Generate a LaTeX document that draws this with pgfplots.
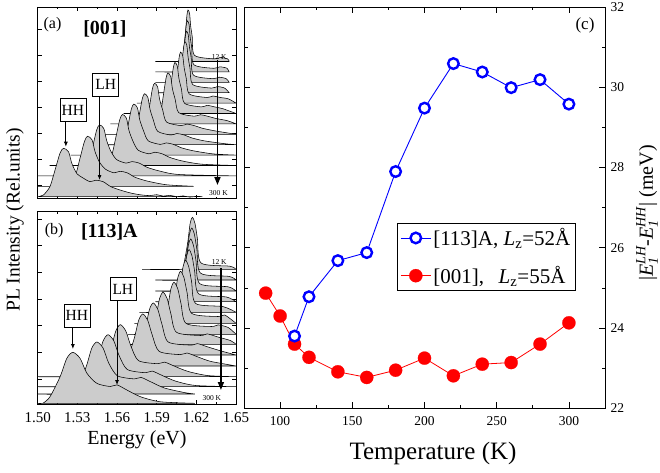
\documentclass[border=0pt]{standalone}
\usepackage{amsmath}
\usepackage{fontspec}
\setmainfont{Liberation Serif}
\usepackage{pgfplots}
\pgfplotsset{compat=1.18}
\usetikzlibrary{arrows.meta}
\newcommand{\fs}[1]{\fontsize{#1}{#1}\selectfont}
\pgfplotsset{
  spec/.style={draw=black, fill=gray!40, line width=0.55pt, smooth, tension=0.45},
  lpanel/.style={scale only axis, anchor=south west, width=198.3pt, xmin=1.5, xmax=1.65,
     xtick={1.50,1.53,1.56,1.59,1.62,1.65}, minor x tick num=1,
     tick align=inside, major tick length=4pt, minor tick length=2.5pt,
     axis line style={line width=0.9pt}, every tick/.append style={black, line width=0.7pt},
     yticklabels={}},
}
\tikzset{
  boxlab/.style={draw, line width=0.6pt, fill=white, font=\fs{15.5}, inner sep=1pt, minimum width=26pt, minimum height=22.5pt},
  thinarrow/.style={line width=0.8pt, -{Latex[length=5pt,width=4pt]}},
  bigarrow/.style={line width=1.6pt, -{Triangle[length=8pt,width=6pt]}},
}
\begin{document}
\begin{tikzpicture}
\useasboundingbox (0pt,0pt) rectangle (660pt,472pt);
%%%%%%%%%%%%%%%% panel (a)
\begin{axis}[lpanel, at={(37.7pt,273.5pt)}, height=191.5pt, ymin=0, ymax=191.5,
  xticklabels={}, ytick={13.5,39.5,65.5,91.5,117.5,143.5,169.5}]
\addplot[spec] coordinates {(1.589,137.0) (1.6075,137.0) (1.6088,138.8) (1.6104,147.8) (1.6117,165.3) (1.6129,183.4) (1.6137,188.5) (1.6149,184.9) (1.6157,172.5) (1.6169,161.7) (1.6186,143.2) (1.6337,139.6) (1.6382,141.1) (1.6437,139.6) (1.6448,137.0)} -- cycle;
\addplot[spec] coordinates {(1.589,126.6) (1.6068,126.6) (1.6082,128.4) (1.6098,137.3) (1.6111,154.7) (1.6123,172.5) (1.6132,177.6) (1.6145,174.0) (1.6153,161.8) (1.6165,151.1) (1.6182,133.7) (1.6332,130.2) (1.6377,131.7) (1.6432,130.2) (1.6448,126.6)} -- cycle;
\addplot[spec] coordinates {(1.589,116.2) (1.6058,116.2) (1.6073,118.0) (1.6090,126.9) (1.6104,144.3) (1.6117,162.1) (1.6126,167.2) (1.6139,163.6) (1.6148,151.4) (1.6161,140.7) (1.6179,123.3) (1.6326,119.8) (1.6371,121.3) (1.6426,119.8) (1.6448,116.2)} -- cycle;
\addplot[spec] coordinates {(1.589,105.8) (1.6040,105.8) (1.6056,107.6) (1.6075,116.5) (1.6090,133.9) (1.6104,151.7) (1.6114,156.8) (1.6128,153.2) (1.6138,141.0) (1.6152,130.3) (1.6172,114.0) (1.6314,110.4) (1.6359,111.9) (1.6414,110.4) (1.6448,105.8)} -- cycle;
\addplot[spec] coordinates {(1.575,95.4) (1.5997,95.4) (1.6016,97.2) (1.6037,106.1) (1.6054,123.5) (1.6070,141.3) (1.6081,146.4) (1.6097,142.8) (1.6108,130.6) (1.6124,119.9) (1.6146,104.6) (1.6281,101.0) (1.6326,102.5) (1.6381,101.0) (1.6441,99.7) (1.65,95.4)} -- cycle;
\addplot[spec] coordinates {(1.565,85.0) (1.5944,85.0) (1.5965,86.8) (1.5989,95.7) (1.6007,113.1) (1.6026,130.9) (1.6038,136.0) (1.6056,132.4) (1.6068,120.2) (1.6087,109.5) (1.6111,95.2) (1.6238,91.6) (1.6283,93.2) (1.6338,91.6) (1.6398,89.9) (1.65,85.0)} -- cycle;
\addplot[spec] coordinates {(1.555,74.6) (1.5880,74.6) (1.5903,76.4) (1.5930,85.3) (1.5950,102.7) (1.5971,120.5) (1.5985,125.6) (1.6006,122.0) (1.6019,109.8) (1.6040,99.1) (1.6067,85.8) (1.6185,82.3) (1.6230,83.8) (1.6285,82.3) (1.6345,80.1) (1.6435,77.8) (1.65,74.6)} -- cycle;
\addplot[spec] coordinates {(1.545,64.2) (1.5767,64.2) (1.5793,66.0) (1.5823,74.9) (1.5846,92.3) (1.5868,110.1) (1.5884,115.2) (1.5907,111.6) (1.5922,99.4) (1.5945,88.7) (1.5975,76.4) (1.6084,72.9) (1.6129,74.4) (1.6184,72.9) (1.6244,70.3) (1.6334,67.8) (1.65,64.2)} -- cycle;
\addplot[spec] coordinates {(1.535,53.8) (1.5679,53.8) (1.5708,55.6) (1.5741,64.5) (1.5766,81.9) (1.5791,99.7) (1.5808,104.8) (1.5833,101.2) (1.5850,89.0) (1.5875,78.3) (1.5908,67.1) (1.6008,63.5) (1.6053,65.0) (1.6108,63.5) (1.6168,60.5) (1.6258,57.7) (1.6408,54.9) (1.65,53.8)} -- cycle;
\addplot[spec] coordinates {(1.525,43.4) (1.5587,43.4) (1.5618,45.2) (1.5654,54.1) (1.5681,71.5) (1.5708,89.3) (1.5727,94.4) (1.5754,90.8) (1.5772,78.6) (1.5800,67.9) (1.5836,57.7) (1.5927,54.1) (1.5972,55.6) (1.6027,54.1) (1.6087,50.7) (1.6177,47.7) (1.6327,44.6) (1.65,43.4)} -- cycle;
\addplot[spec] coordinates {(1.509,33.0) (1.5489,33.0) (1.5522,34.8) (1.5561,43.7) (1.5591,61.1) (1.5621,78.9) (1.5641,84.0) (1.5671,80.4) (1.5690,68.2) (1.5720,57.5) (1.5760,48.3) (1.5841,44.7) (1.5886,46.3) (1.5941,44.7) (1.6001,41.0) (1.6091,37.6) (1.6241,34.3) (1.65,33.0)} -- cycle;
\addplot[spec] coordinates {(1.500,22.6) (1.5302,22.6) (1.5339,24.4) (1.5381,33.3) (1.5414,50.7) (1.5446,68.5) (1.5468,73.6) (1.5500,70.0) (1.5522,57.8) (1.5554,47.1) (1.5597,38.9) (1.5668,35.4) (1.5713,36.9) (1.5768,35.4) (1.5828,31.2) (1.5918,27.6) (1.6068,24.0) (1.65,22.6)} -- cycle;
\addplot[spec] coordinates {(1.500,12.2) (1.5202,12.2) (1.5240,14.0) (1.5285,22.7) (1.5319,39.7) (1.5354,57.2) (1.5377,62.2) (1.5411,58.7) (1.5434,46.7) (1.5468,36.2) (1.5514,29.2) (1.5577,25.7) (1.5622,27.2) (1.5677,25.7) (1.5737,21.2) (1.5827,17.5) (1.5977,13.7) (1.618,12.2)} -- cycle;
\addplot[spec] coordinates {(1.500,1.8) (1.5043,3.5) (1.5093,12.0) (1.5131,28.4) (1.5169,45.4) (1.5195,50.2) (1.5233,46.8) (1.5258,35.2) (1.5296,25.0) (1.5347,20.2) (1.5395,16.8) (1.5440,18.3) (1.5495,16.8) (1.5555,11.7) (1.5645,7.6) (1.5720,5.0) (1.5795,3.4) (1.585,2.9) (1.590,3.8) (1.595,2.4) (1.600,3.2) (1.605,1.8) (1.610,2.6) (1.615,1.4) (1.620,2.2) (1.6246,1.8)} -- cycle;
\node[font=\fs{16}] at (axis cs:1.5112,173.5) {(a)};
\node[font=\bfseries\fs{20}] at (axis cs:1.5509,169.5) {[001]};
\node[boxlab] at (axis cs:1.5266,88.5) {HH};
\draw[thinarrow] (axis cs:1.5213,76.8) -- (axis cs:1.5213,51.8);
\node[boxlab] at (axis cs:1.5515,113.8) {LH};
\draw[thinarrow] (axis cs:1.5468,101.8) -- (axis cs:1.5468,18.5);
\node[font=\fs{7.5}] at (axis cs:1.6373,141.8) {12 K};
\draw[bigarrow] (axis cs:1.6360,138.5) -- (axis cs:1.6360,13.5);
\node[font=\fs{7.5}, fill=white, inner sep=1pt] at (axis cs:1.6367,5.5) {300 K};
\end{axis}
%%%%%%%%%%%%%%%% panel (b)
\begin{axis}[lpanel, at={(37.7pt,68pt)}, height=193pt, ymin=0, ymax=193,
  xticklabels={1.50,1.53,1.56,1.59,1.62,1.65}, xticklabel style={font=\fs{15}, yshift=-5pt},
  ytick={25,51.7,78.3,105,131.7,158.3,185}]
\addplot[spec] coordinates {(1.579,134.7) (1.6088,134.7) (1.6108,141.5) (1.6135,161.7) (1.6153,180.5) (1.6170,186.7) (1.6190,180.5) (1.6208,165.4) (1.6236,141.0) (1.6453,137.8) (1.65,134.7)} -- cycle;
\addplot[spec] coordinates {(1.589,124) (1.6081,124) (1.6101,130.8) (1.6129,151.0) (1.6148,169.8) (1.6165,176.0) (1.6185,169.8) (1.6204,154.7) (1.6232,130.8) (1.6448,127.6) (1.65,124)} -- cycle;
\addplot[spec] coordinates {(1.589,113) (1.6070,113) (1.6091,119.8) (1.6120,140.0) (1.6140,158.8) (1.6157,165.0) (1.6178,158.8) (1.6197,143.7) (1.6226,120.3) (1.6440,117.2) (1.65,113)} -- cycle;
\addplot[spec] coordinates {(1.589,102.3) (1.6054,102.3) (1.6076,109.1) (1.6106,129.3) (1.6127,148.1) (1.6145,154.3) (1.6167,148.1) (1.6187,133.0) (1.6218,110.1) (1.6428,107.0) (1.65,102.3)} -- cycle;
\addplot[spec] coordinates {(1.5769,91.7) (1.6023,91.7) (1.6046,98.5) (1.6078,118.7) (1.6100,137.5) (1.6119,143.7) (1.6142,137.5) (1.6164,122.4) (1.6195,100.5) (1.6402,97.4) (1.65,91.7)} -- cycle;
\addplot[spec] coordinates {(1.5731,80.7) (1.5976,80.7) (1.6001,87.5) (1.6036,107.7) (1.6060,126.5) (1.6081,132.7) (1.6106,126.5) (1.6130,111.4) (1.6165,90.6) (1.6364,87.5) (1.6415,89.0) (1.65,80.7)} -- cycle;
\addplot[spec] coordinates {(1.5681,69.7) (1.5917,69.7) (1.5945,76.5) (1.5983,96.7) (1.6008,115.5) (1.6031,121.7) (1.6059,115.5) (1.6084,100.4) (1.6122,80.6) (1.6314,77.5) (1.6365,79.1) (1.6441,76.5) (1.65,69.7)} -- cycle;
\addplot[spec] coordinates {(1.5598,59.7) (1.5820,59.7) (1.5851,66.5) (1.5894,86.7) (1.5922,105.5) (1.5948,111.7) (1.5979,105.5) (1.6007,90.4) (1.6050,71.7) (1.6231,68.5) (1.6282,70.1) (1.6358,67.2) (1.6459,63.4) (1.65,59.7)} -- cycle;
\addplot[spec] coordinates {(1.5524,49) (1.5733,49) (1.5767,55.8) (1.5814,76.0) (1.5846,94.8) (1.5874,101.0) (1.5908,94.8) (1.5940,79.7) (1.5987,62.0) (1.6157,58.9) (1.6208,60.4) (1.6284,57.2) (1.6385,53.1) (1.65,49)} -- cycle;
\addplot[spec] coordinates {(1.5445,38) (1.5640,38) (1.5677,44.8) (1.5729,65.0) (1.5764,83.8) (1.5795,90.0) (1.5832,83.8) (1.5867,68.7) (1.5919,52.6) (1.6078,49.4) (1.6129,51.0) (1.6205,47.4) (1.6306,42.7) (1.6458,39.0) (1.65,38)} -- cycle;
\addplot[spec] coordinates {(1.50,27.3) (1.5454,27.3) (1.5495,34.1) (1.5552,54.3) (1.5591,73.1) (1.5625,79.3) (1.5666,73.1) (1.5705,58.0) (1.5762,43.4) (1.5908,40.3) (1.5959,41.9) (1.6035,37.8) (1.6136,32.6) (1.6288,28.4) (1.65,27.3)} -- cycle;
\addplot[spec] coordinates {(1.50,17.3) (1.5350,17.3) (1.5394,24.1) (1.5454,44.3) (1.5495,63.1) (1.5532,69.3) (1.5576,63.1) (1.5617,48.0) (1.5678,34.5) (1.5815,31.3) (1.5866,32.9) (1.5942,28.5) (1.6043,22.9) (1.6195,18.5) (1.65,17.3)} -- cycle;
\addplot[spec] coordinates {(1.50,10) (1.5254,10) (1.5301,16.8) (1.5366,37.0) (1.5409,55.8) (1.5448,62.0) (1.5495,55.8) (1.5538,40.7) (1.5603,28.2) (1.5731,25.1) (1.5782,26.6) (1.5858,22.0) (1.5959,16.0) (1.6111,11.4) (1.6189,10)} -- cycle;
\addplot[spec] coordinates {(1.50,0.7) (1.5038,0.7) (1.5093,7.3) (1.5169,27.2) (1.5220,45.6) (1.5266,51.7) (1.5321,45.6) (1.5372,30.8) (1.5448,20.6) (1.5549,17.5) (1.5600,19.1) (1.5676,13.9) (1.5777,7.3) (1.5929,2.2) (1.6189,0.7)} -- cycle;
\node[font=\fs{16}] at (axis cs:1.5125,173.5) {(b)};
\node[font=\bfseries\fs{20}] at (axis cs:1.5542,172.5) {[113]A};
\node[boxlab] at (axis cs:1.5296,88.2) {HH};
\draw[thinarrow] (axis cs:1.5266,77.0) -- (axis cs:1.5266,55);
\node[boxlab] at (axis cs:1.5644,115) {LH};
\draw[thinarrow] (axis cs:1.5600,103.8) -- (axis cs:1.5600,19);
\node[font=\fs{7.5}] at (axis cs:1.6373,142.3) {12 K};
\draw[bigarrow] (axis cs:1.6386,136) -- (axis cs:1.6386,14);
\node[font=\fs{7.5}, fill=white, inner sep=1pt] at (axis cs:1.6317,5.7) {300 K};
\end{axis}
%%%%%%%%%%%%%%%% panel (c)
\begin{axis}[at={(244pt,63.7pt)}, anchor=south west, scale only axis, width=361pt, height=401.3pt,
  xmin=75, xmax=325, ymin=22, ymax=32,
  xtick={100,150,200,250,300}, xticklabels={100,150,200,250,300}, minor x tick num=1,
  ytick={22,24,26,28,30,32}, yticklabels={22,24,26,28,30,32}, minor y tick num=1,
  yticklabel pos=right, ytick pos=both, xtick pos=both,
  tick align=inside, major tick length=6pt, minor tick length=3.5pt,
  axis line style={line width=0.9pt}, every tick/.append style={black, line width=0.7pt},
  tick label style={font=\fs{13.5}},
  xticklabel style={yshift=-5pt}, yticklabel style={xshift=2pt},
  legend style={at={(0.424,0.461)}, anchor=north west, draw=black, line width=0.6pt,
    font=\fs{21}, inner sep=3pt, row sep=15pt, cells={anchor=west}},
  legend image code/.code={\draw[mark repeat=2,mark phase=2,#1] plot coordinates {(0pt,0pt) (15pt,0pt) (30pt,0pt)};},
  reverse legend,
]
\addplot[red, line width=0.8pt, mark=*, mark size=6.6pt, mark options={fill=red, draw=red, line width=0.2pt}]
  coordinates {(90,24.87) (100,24.30) (110,23.60) (120,23.27) (140,22.91) (160,22.77) (180,22.95) (200,23.25) (220,22.81) (240,23.10) (260,23.14) (280,23.60) (300,24.13)};
\addlegendentry{[001],\hspace{0.7em}\textit{L}\textsubscript{z}=55Å}
\addplot[blue, line width=0.9pt, mark=*, mark size=5.3pt, mark options={fill=white, draw=blue, line width=2.4pt}]
  coordinates {(110,23.80) (120,24.78) (140,25.68) (160,25.88) (180,27.90) (200,29.48) (220,30.59) (240,30.38) (260,29.99) (280,30.19) (300,29.58)};
\addlegendentry{[113]A, \textit{L}\textsubscript{z}=52Å}
\node[font=\fs{17}] at (rel axis cs:0.9446,0.954) {(c)};
\end{axis}
%%%%%%%%%%%%%%%% outer labels
\node[rotate=90, font=\fs{19.5}] at (15pt,252pt) {PL Intensity (Rel.units)};
\node[font=\fs{20}] at (137pt,32pt) {Energy (eV)};
\node[font=\fs{25}] at (433pt,19pt) {Temperature (K)};
\node[rotate=90, font=\fs{20}, inner sep=1pt] at (647pt,259pt) {\textbar$\textit{E}_{\textit{1}}^{\textit{LH}}$-$\textit{E}_{\textit{1}}^{\textit{HH}}$\textbar\ (meV)};
\end{tikzpicture}
\end{document}
